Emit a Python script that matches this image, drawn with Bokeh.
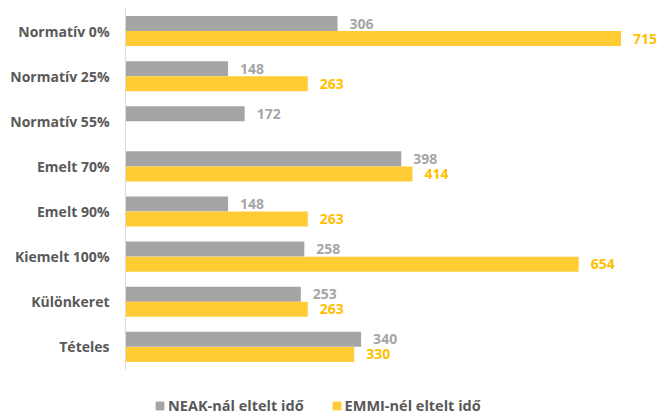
from bokeh.plotting import figure
from bokeh.models import ColumnDataSource, Legend, LegendItem, Range1d, FixedTicker
from bokeh.embed import file_html
from bokeh.resources import INLINE
from bokeh.core.properties import value

categories = ["Normatív 0%", "Normatív 25%", "Normatív 55%", "Emelt 70%",
              "Emelt 90%", "Kiemelt 100%", "Különkeret", "Tételes"]
neak = [306, 148, 172, 398, 148, 258, 253, 340]
emmi = [715, 263, None, 414, 263, 654, 263, 330]
series_names = ["NEAK-nál eltelt idő", "EMMI-nél eltelt idő"]

GRAY = "#A5A5A5"
YELLOW = "#FFCC33"
FONT = "Open Sans"
FS = "14px"

n = len(categories)
pos = [n - 0.5 - i for i in range(n)]
off = 0.167
h = 0.333

src_n = ColumnDataSource(dict(y=[q + off for q in pos], v=neak,
                              t=[str(x) for x in neak]))
ey = [q - off for q, x in zip(pos, emmi) if x is not None]
ev = [x for x in emmi if x is not None]
src_e = ColumnDataSource(dict(y=ey, v=ev, t=[str(x) for x in ev]))

p = figure(width=660, height=419, y_range=Range1d(n - 9.11, n),
           x_range=Range1d(0, 772), output_backend="svg", toolbar_location=None,
           x_axis_location=None, min_border_left=125, min_border_right=0,
           min_border_top=8, min_border_bottom=0)
p.outline_line_color = None
p.grid.visible = False

rn = p.hbar(y="y", right="v", left=0, height=h, source=src_n,
            fill_color=GRAY, line_color=None)
re_ = p.hbar(y="y", right="v", left=0, height=h, source=src_e,
             fill_color=YELLOW, line_color=None)

p.text(x="v", y="y", text="t", source=src_n,
       x_offset=12, text_baseline="middle", text_align="left",
       text_font=value(FONT), text_font_style="bold", text_font_size=FS,
       text_color="#A6A6A6")
p.text(x="v", y="y", text="t", source=src_e,
       x_offset=12, text_baseline="middle", text_align="left",
       text_font=value(FONT), text_font_style="bold", text_font_size=FS,
       text_color="#FFC000")

ax = p.yaxis[0]
ax.ticker = FixedTicker(ticks=pos)
ax.major_label_overrides = {q: c for q, c in zip(pos, categories)}
ax.bounds = (0, n)
ax.axis_line_color = "#D9D9D9"
ax.axis_line_width = 1
ax.major_tick_line_color = None
ax.minor_tick_line_color = None
ax.major_tick_out = 0
ax.major_label_standoff = 16
ax.major_label_text_font = FONT
ax.major_label_text_font_style = "bold"
ax.major_label_text_font_size = FS
ax.major_label_text_color = "#595959"

legend = Legend(items=[LegendItem(label=series_names[0], renderers=[rn]),
                       LegendItem(label=series_names[1], renderers=[re_])],
                orientation="horizontal", location=(29, 4),
                padding=0, margin=0, border_line_color=None,
                background_fill_alpha=0, glyph_width=11, glyph_height=11,
                label_height=11, label_standoff=3, spacing=27,
                label_text_font=FONT, label_text_font_style="bold",
                label_text_font_size="14.5px", label_text_color="#595959")
p.add_layout(legend, "center")

open("out.html", "w").write(file_html(p, INLINE))
